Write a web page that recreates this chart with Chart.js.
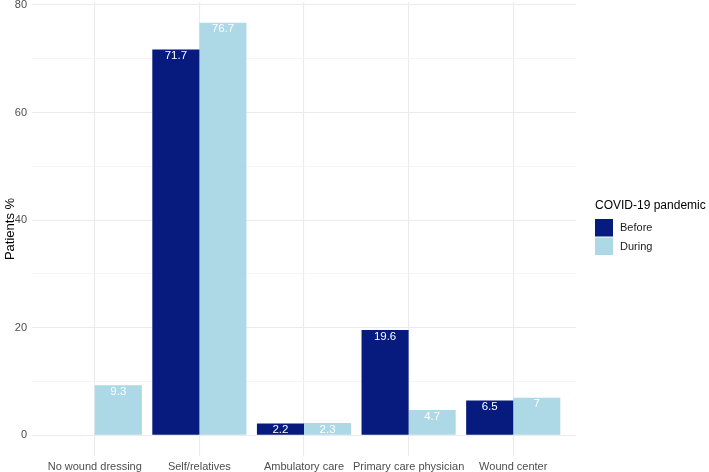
<!DOCTYPE html>
<html>
<head>
<meta charset="utf-8">
<script src="https://cdn.jsdelivr.net/npm/chart.js@4"></script>
<style>
  html, body { margin: 0; padding: 0; background: #fff; }
  #wrap { width: 709px; height: 472px; position: relative; }
</style>
</head>
<body>
<div id="wrap"><canvas id="chart" width="709" height="472"></canvas></div>
<script>
// --- data ---
const categories = ['No wound dressing', 'Self/relatives', 'Ambulatory care', 'Primary care physician', 'Wound center'];
const before = [null, 71.7, 2.2, 19.6, 6.5];
const during = [9.3, 76.7, 2.3, 4.7, 7];
const yTicks = [0, 10, 20, 30, 40, 50, 60, 70, 80];
const legendTitle = 'COVID-19 pandemic';
const seriesNames = ['Before', 'During'];

const NAVY = '#071a7e';
const LIGHT = '#add8e6';
const FONT = "'Liberation Sans', Arial, sans-serif";

const toPts = arr => arr.map((v, i) => ({ x: i, y: v }));

// white value labels just below each bar top
const barLabels = {
  id: 'barLabels',
  afterDatasetsDraw(chart) {
    const ctx = chart.ctx;
    ctx.save();
    ctx.fillStyle = '#ffffff';
    ctx.font = `11.5px ${FONT}`;
    ctx.textAlign = 'center';
    ctx.textBaseline = 'middle';
    chart.data.datasets.forEach((ds, di) => {
      chart.getDatasetMeta(di).data.forEach((bar, i) => {
        const v = ds.data[i].y;
        if (v == null) return;
        ctx.fillText(String(v), bar.x, bar.y + 6.5);
      });
    });
    ctx.restore();
  }
};

// ggplot-like legend on the right
const sideLegend = {
  id: 'sideLegend',
  afterDraw(chart) {
    const ctx = chart.ctx;
    const x0 = 595, y0 = 206;
    ctx.save();
    ctx.fillStyle = '#000';
    ctx.font = `12px ${FONT}`;
    ctx.textAlign = 'left';
    ctx.textBaseline = 'middle';
    ctx.fillText(legendTitle, x0, y0);
    ctx.font = `11px ${FONT}`;
    chart.data.datasets.forEach((ds, i) => {
      const top = 219 + i * 18.5;
      ctx.fillStyle = ds.backgroundColor;
      ctx.fillRect(x0, top, 18, 17.5);
      ctx.fillStyle = '#1a1a1a';
      ctx.fillText(seriesNames[i], x0 + 25, top + 9);
    });
    ctx.restore();
  }
};

const noPad = s => { s.paddingTop = 0; s.paddingBottom = 0; s.paddingLeft = 0; s.paddingRight = 0; };

new Chart(document.getElementById('chart'), {
  type: 'bar',
  data: {
    datasets: [
      { label: seriesNames[0], data: toPts(before), backgroundColor: NAVY, categoryPercentage: 0.9, barPercentage: 1.0 },
      { label: seriesNames[1], data: toPts(during), backgroundColor: LIGHT, categoryPercentage: 0.9, barPercentage: 1.0 }
    ]
  },
  options: {
    responsive: false,
    animation: false,
    layout: { padding: { left: 0, right: 133, top: 2, bottom: 0 } },
    plugins: { legend: { display: false }, tooltip: { enabled: false } },
    scales: {
      x: {
        type: 'linear',
        offset: false,
        min: -0.6,
        max: categories.length - 0.4,
        afterBuildTicks: s => { s.ticks = categories.map((_, i) => ({ value: i })); },
        afterFit: s => { s.height = 16; noPad(s); },
        border: { display: false },
        grid: { color: '#ebebeb', lineWidth: 1.1, drawTicks: false, offset: false },
        ticks: {
          autoSkip: false, maxRotation: 0, padding: 4,
          color: '#4d4d4d', font: { family: FONT, size: 11 },
          callback: v => categories[v] ?? ''
        }
      },
      y: {
        min: -3.835,
        max: 80.535,
        afterBuildTicks: s => { s.ticks = yTicks.map(v => ({ value: v })); },
        afterFit: s => { s.width = 32; noPad(s); },
        border: { display: false },
        grid: {
          drawTicks: false,
          color: c => (c.tick && c.tick.value % 20 === 0) ? '#ebebeb' : '#f3f3f3',
          lineWidth: c => (c.tick && c.tick.value % 20 === 0) ? 1.1 : 0.8
        },
        ticks: {
          padding: 5, color: '#4d4d4d', font: { family: FONT, size: 11 },
          callback: v => (v % 20 === 0 ? String(v) : '')
        },
        title: { display: true, text: 'Patients %', color: '#000', font: { family: FONT, size: 13 }, padding: { top: 3, bottom: 2 } }
      }
    }
  },
  plugins: [barLabels, sideLegend]
});
</script>
</body>
</html>
